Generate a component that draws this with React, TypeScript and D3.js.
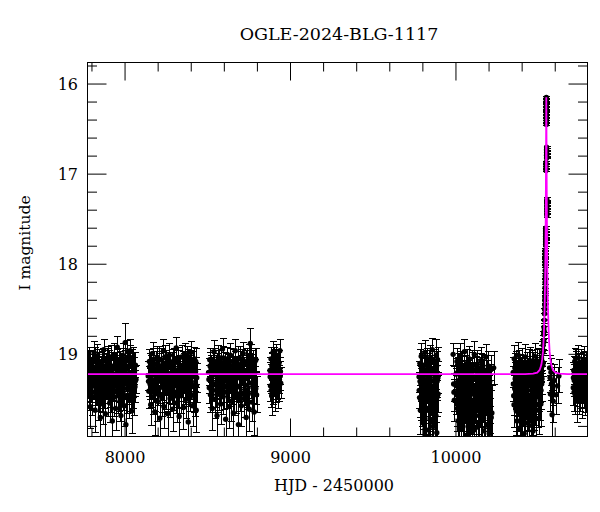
import React from 'react';
import * as d3 from 'd3';

// each observation: [HJD - 2450000, I mag, error]
type Obs = [number, number, number];

const season2017: Obs[] = [
  [7776,19.31,.18],[7779,19.12,.15],[7783,19.42,.2],[7785,19.05,.13],[7788,19.27,.16],[7791,19.58,.24],[7794,19.18,.14],[7797,19.36,.17],
  [7801,19.09,.13],[7803,19.47,.21],[7806,19.21,.15],[7810,19.33,.17],[7813,18.98,.12],[7816,19.26,.16],[7819,19.62,.25],[7822,19.14,.14],
  [7826,19.39,.18],[7829,19.02,.13],[7832,19.29,.16],[7835,19.51,.22],[7838,19.17,.15],[7842,19.44,.19],[7845,19.08,.13],[7848,19.24,.16],
  [7851,19.7,.28],[7855,19.35,.17],[7858,19.11,.14],[7861,19.28,.16],[7864,19.55,.23],[7868,19.19,.15],[7871,18.95,.12],[7874,19.41,.19],
  [7877,19.23,.15],[7881,19.66,.26],[7884,19.13,.14],[7887,19.32,.17],[7890,19.06,.13],[7894,19.48,.21],[7897,19.25,.16],[7900,19.37,.18],
  [7903,19.1,.14],[7907,19.54,.22],[7910,19.2,.15],[7913,19.03,.13],[7917,19.45,.2],[7920,19.27,.16],[7923,19.74,.3],[7926,19.15,.14],
  [7930,19.34,.17],[7933,19.0,.12],[7936,19.4,.19],[7940,19.22,.15],[7943,19.6,.24],[7946,19.12,.14],[7949,19.3,.17],[7953,18.92,.12],
  [7956,19.46,.2],[7959,19.18,.15],[7962,19.36,.18],[7966,19.07,.13],[7969,19.52,.22],[7972,19.24,.16],[7975,19.68,.27],[7979,19.14,.14],
  [7982,19.33,.17],[7985,19.01,.13],[7988,19.43,.19],[7992,19.2,.15],[7995,19.57,.23],[7998,19.1,.14],[8001,18.87,.21],[8005,19.78,.32],
  [8008,19.16,.15],[8011,19.38,.18],[8014,18.97,.12],[8018,19.25,.16],[8021,19.5,.21],[8024,19.13,.14],[8027,19.35,.17],[8031,18.96,.13],
  [8034,19.44,.2],[8037,19.21,.15],[8040,19.63,.25],[8044,19.09,.14],[8047,19.31,.17],[8050,19.05,.13],[8053,19.47,.21],[8057,19.19,.15],
  [8060,19.36,.18],[8063,19.12,.14],[8066,19.28,.16],
];
const extra2017: Obs[] = [
  [7778,19.2,.15],[7784,19.35,.17],[7790,19.1,.14],[7796,19.28,.16],[7802,19.42,.19],[7808,19.15,.15],[7814,19.31,.17],[7820,19.06,.14],
  [7827,19.24,.16],[7833,19.39,.18],[7839,19.12,.14],[7846,19.33,.17],[7852,19.19,.15],[7859,19.45,.2],[7865,19.08,.14],[7872,19.27,.16],
  [7878,19.37,.18],[7885,19.17,.15],[7891,19.3,.17],[7898,19.04,.13],[7904,19.22,.16],[7911,19.4,.19],[7918,19.13,.15],[7924,19.29,.17],
  [7931,19.48,.21],[7937,19.16,.15],[7944,19.34,.18],[7950,19.09,.14],[7957,19.26,.16],[7963,19.43,.2],[7970,19.11,.14],[7976,19.21,.16],
  [7983,19.38,.18],[7989,19.07,.14],[7996,19.32,.17],[8002,19.18,.15],[8009,19.46,.2],[8015,19.14,.15],[8022,19.28,.16],[8028,19.03,.13],
  [8035,19.36,.18],[8041,19.23,.16],[8048,19.41,.19],[8054,19.12,.14],[8061,19.3,.17],
];

const season2018: Obs[] = [
  [8140,19.24,.16],[8144,19.41,.19],[8147,19.08,.13],[8151,19.33,.17],[8155,19.56,.23],[8158,19.15,.14],[8162,19.28,.16],[8166,18.99,.12],
  [8169,19.47,.2],[8173,19.19,.15],[8177,19.36,.18],[8180,19.64,.26],[8184,19.11,.14],[8188,19.27,.16],[8191,19.04,.13],[8195,19.52,.22],
  [8199,19.22,.15],[8202,19.39,.18],[8206,19.13,.14],[8210,19.71,.29],[8213,19.3,.17],[8217,19.06,.13],[8221,19.45,.2],[8224,19.2,.15],
  [8228,19.34,.17],[8232,18.96,.12],[8235,19.58,.24],[8239,19.17,.15],[8243,19.29,.16],[8246,19.42,.19],[8250,19.09,.13],[8254,19.25,.16],
  [8257,19.66,.27],[8261,19.14,.14],[8265,19.37,.18],[8268,19.01,.13],[8272,19.49,.21],[8276,19.23,.15],[8279,19.32,.17],[8283,19.12,.14],
  [8287,19.61,.25],[8290,19.26,.16],[8294,19.07,.13],[8298,19.43,.19],[8301,19.18,.15],[8305,19.35,.17],[8309,18.93,.12],[8312,19.54,.22],
  [8316,19.21,.15],[8320,19.4,.19],[8323,19.1,.14],[8327,19.69,.28],[8331,19.28,.16],[8334,19.16,.15],[8338,19.46,.2],[8342,19.03,.13],
  [8345,19.31,.17],[8349,19.24,.16],[8353,19.59,.24],[8356,19.13,.14],[8360,19.38,.18],[8364,19.0,.12],[8367,19.5,.21],[8371,19.2,.15],
  [8375,19.33,.17],[8378,19.08,.13],[8382,19.75,.3],[8386,19.27,.16],[8389,19.15,.14],[8393,19.44,.2],[8397,18.98,.12],[8400,19.3,.17],
  [8404,19.22,.15],[8408,19.57,.23],[8411,19.11,.14],[8415,19.36,.18],[8419,19.05,.13],[8422,19.48,.21],[8426,19.19,.15],[8430,19.62,.25],
  [8433,19.26,.16],
];
const extra2018: Obs[] = [
  [8142,19.3,.17],[8149,19.14,.15],[8156,19.4,.19],[8163,19.19,.15],[8170,19.07,.14],[8176,19.32,.17],[8183,19.44,.2],[8189,19.16,.15],
  [8196,19.27,.16],[8203,19.05,.14],[8209,19.37,.18],[8216,19.22,.16],[8222,19.48,.21],[8229,19.11,.14],[8236,19.29,.17],[8242,19.03,.13],
  [8249,19.35,.18],[8255,19.2,.16],[8262,19.43,.2],[8269,19.13,.15],[8275,19.26,.16],[8282,19.38,.18],[8288,19.09,.14],[8295,19.31,.17],
  [8302,19.17,.15],[8308,19.46,.2],[8315,19.24,.16],[8321,19.06,.14],[8328,19.34,.18],[8335,19.21,.16],[8341,19.41,.19],[8348,19.12,.15],
  [8354,19.28,.16],[8361,19.15,.15],[8368,19.36,.18],[8374,19.04,.13],[8381,19.23,.16],[8387,19.39,.19],[8394,19.1,.14],[8401,19.33,.17],
  [8407,19.18,.15],[8414,19.45,.2],[8420,19.25,.16],[8427,19.08,.14],[8432,19.35,.18],
];

const season2019: Obs[] = [
  [8505,19.2,.15],[8509,19.37,.18],[8512,19.06,.13],[8516,19.45,.2],[8520,19.16,.15],[8523,19.29,.16],[8527,19.6,.25],[8531,19.1,.14],
  [8534,19.34,.17],[8538,18.97,.12],[8542,19.5,.21],[8545,19.23,.16],[8549,19.4,.19],[8553,19.13,.14],[8556,19.68,.28],[8560,19.27,.16],
  [8564,19.03,.13],[8567,19.43,.19],[8571,19.18,.15],[8575,19.32,.17],[8578,19.55,.23],[8582,19.09,.14],[8586,19.25,.16],[8589,18.94,.12],
  [8593,19.47,.2],[8597,19.21,.15],[8600,19.36,.18],[8604,19.12,.14],[8608,19.72,.3],[8611,19.3,.17],[8615,19.05,.13],[8619,19.41,.19],
  [8622,19.19,.15],[8626,19.58,.24],[8630,19.14,.14],[8633,19.28,.16],[8637,19.01,.13],[8641,19.52,.22],[8644,19.24,.16],[8648,19.38,.18],
  [8652,19.08,.13],[8655,19.65,.27],[8659,19.17,.15],[8663,19.33,.17],[8666,18.96,.12],[8670,19.46,.2],[8674,19.22,.15],[8677,19.35,.17],
  [8681,19.11,.14],[8685,19.78,.32],[8688,19.26,.16],[8692,19.04,.13],[8696,19.44,.2],[8699,19.2,.15],[8703,19.57,.23],[8707,19.15,.14],
  [8710,19.31,.17],[8714,18.99,.12],[8718,19.49,.21],[8721,19.23,.16],[8725,19.39,.18],[8729,19.1,.14],[8732,19.7,.29],[8736,19.27,.16],
  [8740,19.07,.13],[8743,19.42,.19],[8747,19.18,.15],[8751,19.61,.25],[8754,19.13,.14],[8757,18.88,.17],[8762,19.02,.13],[8765,19.53,.22],
  [8769,19.25,.16],[8773,19.37,.18],[8776,19.09,.13],[8780,19.64,.26],[8784,19.21,.15],[8787,19.3,.17],[8791,19.06,.13],[8795,19.45,.2],
];
const extra2019: Obs[] = [
  [8507,19.28,.16],[8514,19.13,.15],[8521,19.4,.19],[8528,19.2,.16],[8535,19.07,.14],[8541,19.33,.17],[8548,19.16,.15],[8555,19.45,.2],
  [8562,19.24,.16],[8568,19.1,.14],[8575,19.37,.18],[8581,19.19,.15],[8588,19.3,.17],[8594,19.04,.13],[8601,19.42,.19],[8608,19.22,.16],
  [8614,19.14,.15],[8621,19.35,.18],[8627,19.27,.16],[8634,19.08,.14],[8640,19.39,.19],[8647,19.17,.15],[8654,19.31,.17],[8660,19.47,.21],
  [8667,19.12,.15],[8673,19.26,.16],[8680,19.05,.14],[8686,19.36,.18],[8693,19.21,.16],[8700,19.43,.2],[8706,19.09,.14],[8713,19.29,.17],
  [8719,19.18,.15],[8726,19.34,.18],[8733,19.11,.15],[8739,19.4,.19],[8746,19.25,.16],[8752,19.02,.13],[8759,19.32,.17],[8766,19.15,.15],
  [8772,19.44,.2],[8779,19.2,.16],[8785,19.08,.14],[8790,19.38,.18],
];

const season2020: Obs[] = [
  [8876,19.18,.15],[8879,19.35,.17],[8882,19.05,.13],[8885,19.27,.16],[8886,19.46,.22],[8888,19.12,.14],[8891,19.22,.15],[8894,18.98,.12],
  [8897,19.38,.18],[8900,19.15,.14],[8903,19.3,.17],[8906,19.08,.13],[8909,19.44,.2],[8912,19.2,.15],[8915,19.02,.13],[8918,19.33,.17],
  [8921,19.13,.14],[8924,19.25,.16],[8927,19.41,.19],[8930,19.1,.14],[8933,19.28,.16],[8936,18.96,.12],[8939,19.19,.15],[8941,19.32,.17],
  [8877,19.25,.16],[8883,19.4,.19],[8889,19.14,.15],[8895,19.3,.17],[8901,19.06,.14],[8907,19.22,.16],[8913,19.36,.18],[8919,19.17,.15],
  [8925,19.09,.14],[8931,19.34,.18],[8938,19.24,.16],
];

const season2022: Obs[] = [
  [9777,19.25,.17],[9780,19.48,.22],[9782,19.1,.15],[9785,19.62,.27],[9788,19.33,.19],[9790,19.02,.14],[9793,19.55,.25],[9796,19.2,.16],
  [9798,19.76,.32],[9801,19.39,.2],[9804,19.12,.15],[9806,19.68,.29],[9809,19.28,.18],[9812,18.98,.13],[9814,19.5,.23],[9817,19.17,.16],
  [9820,19.84,.35],[9822,19.36,.19],[9825,19.07,.14],[9828,19.6,.26],[9830,19.24,.17],[9833,19.43,.21],[9836,19.91,.38],[9838,19.14,.15],
  [9841,19.31,.18],[9844,19.72,.3],[9846,19.04,.14],[9849,19.46,.22],[9852,19.22,.17],[9854,19.58,.25],[9857,18.95,.13],[9860,19.35,.19],
  [9862,19.8,.34],[9865,19.16,.15],[9868,19.41,.2],[9870,19.09,.14],[9873,19.65,.28],[9876,19.27,.18],[9878,19.52,.24],[9881,19.01,.18],
  [9884,19.87,.36],[9886,19.3,.18],[9889,19.06,.14],[9892,19.44,.21],
];
const extra2022: Obs[] = [
  [9778,19.4,.2],[9783,19.3,.18],[9787,19.5,.23],[9792,19.15,.16],[9797,19.44,.21],[9802,19.58,.25],[9807,19.22,.17],[9811,19.7,.3],
  [9816,19.33,.19],[9821,19.47,.22],[9826,19.19,.16],[9831,19.62,.27],[9835,19.38,.2],[9840,19.11,.15],[9845,19.53,.24],[9850,19.29,.18],
  [9855,19.75,.32],[9859,19.42,.21],[9864,19.2,.17],[9869,19.56,.25],[9874,19.35,.19],[9879,19.68,.29],[9883,19.13,.16],[9887,19.47,.22],
  [9891,19.26,.18],
];

const season2023: Obs[] = [
  [9983,19.0,.12],[9986,19.33,.19],[9988,19.42,.21],[9990,19.51,.23],
  [10000,19.22,.17],[10003,19.45,.22],[10006,19.08,.15],[10009,19.6,.26],[10012,19.3,.19],[10015,19.74,.31],[10018,19.15,.16],[10021,19.38,.2],
  [10024,19.02,.14],[10027,19.55,.25],[10030,19.26,.18],[10033,19.83,.35],[10036,19.12,.15],[10039,19.47,.22],[10042,19.34,.19],[10045,19.68,.29],
  [10048,19.19,.17],[10051,18.97,.13],[10054,19.52,.24],[10057,19.28,.18],[10060,19.9,.38],[10063,19.41,.21],[10066,19.1,.15],[10069,19.63,.27],
  [10072,19.24,.17],[10075,19.36,.2],[10078,19.77,.32],[10081,19.05,.14],[10084,19.49,.23],[10087,19.21,.17],[10090,19.58,.26],[10093,19.32,.19],
  [10096,19.86,.36],[10099,19.14,.16],[10102,19.44,.21],[10105,19.27,.18],[10108,19.7,.3],[10111,19.0,.14],[10114,19.53,.24],[10117,19.37,.2],
  [10120,19.18,.16],[10123,19.81,.34],[10126,19.4,.21],[10129,19.11,.15],[10132,19.62,.27],[10135,19.29,.18],[10138,19.47,.22],[10141,19.93,.38],
  [10144,19.23,.17],[10147,19.56,.25],[10150,19.07,.15],[10153,19.35,.19],[10156,19.73,.31],[10159,19.16,.16],[10162,19.5,.23],[10165,19.31,.19],
  [10168,19.85,.36],[10171,19.2,.17],[10174,19.43,.21],[10177,19.66,.28],[10180,19.03,.14],[10183,19.39,.2],[10186,19.78,.33],[10189,19.25,.18],
  [10192,19.57,.25],[10195,19.13,.16],[10198,19.46,.22],[10201,19.88,.37],[10204,19.3,.19],[10207,19.61,.27],[10210,19.17,.16],[10217,19.65,.3],
  [10228,19.15,.18],
];
const extra2023: Obs[] = [
  [10001,19.35,.19],[10005,19.55,.25],[10010,19.2,.17],[10014,19.42,.21],[10019,19.65,.28],[10023,19.28,.18],[10028,19.48,.22],[10032,19.13,.16],
  [10037,19.6,.26],[10041,19.38,.2],[10046,19.24,.17],[10050,19.72,.31],[10055,19.44,.21],[10059,19.17,.16],[10064,19.53,.24],[10068,19.31,.19],
  [10073,19.8,.34],[10077,19.46,.22],[10082,19.22,.17],[10086,19.62,.27],[10091,19.4,.2],[10095,19.12,.16],[10100,19.57,.25],[10104,19.35,.19],
  [10109,19.84,.35],[10113,19.27,.18],[10118,19.5,.23],[10122,19.68,.29],[10127,19.2,.17],[10131,19.44,.21],[10136,19.76,.32],[10140,19.33,.19],
  [10145,19.52,.24],[10149,19.15,.16],[10154,19.64,.28],[10158,19.41,.21],[10163,19.25,.18],[10167,19.71,.3],[10172,19.36,.2],[10176,19.55,.25],
  [10181,19.18,.17],[10185,19.6,.26],[10190,19.43,.21],[10194,19.79,.33],[10199,19.3,.19],[10203,19.53,.24],[10208,19.38,.2],[10213,19.7,.3],
];

const season2024: Obs[] = [
  [10346,19.2,.17],[10349,19.46,.22],[10352,19.05,.15],[10355,19.38,.2],[10358,19.27,.18],[10361,19.6,.26],[10364,19.13,.16],[10367,19.42,.21],
  [10370,19.74,.31],[10373,19.22,.17],[10376,19.01,.14],[10379,19.51,.24],[10382,19.33,.19],[10385,19.82,.34],[10388,19.16,.16],[10391,19.44,.21],
  [10394,19.28,.18],[10397,19.66,.28],[10400,19.09,.15],[10403,19.37,.2],[10406,19.55,.25],[10409,19.21,.17],[10412,19.88,.37],[10415,19.31,.19],
  [10418,19.03,.14],[10421,19.48,.23],[10424,19.25,.18],[10427,19.7,.3],[10430,19.14,.16],[10433,19.4,.21],[10436,19.58,.26],[10439,19.19,.17],
  [10442,19.79,.33],[10445,19.35,.19],[10448,19.07,.15],[10451,19.5,.24],[10454,19.26,.18],[10457,19.63,.27],[10460,19.12,.16],[10463,19.43,.21],
  [10466,19.85,.36],[10469,19.23,.17],[10472,19.36,.2],[10475,19.02,.14],[10478,19.54,.25],[10481,19.18,.17],[10484,19.71,.3],[10487,19.3,.19],
  [10490,19.1,.15],[10493,19.45,.22],[10496,19.24,.18],[10499,19.62,.27],[10502,19.08,.15],[10505,19.34,.19],[10508,19.5,.23],[10511,19.15,.16],
  [10514,19.4,.21],[10517,19.04,.14],[10520,19.27,.18],
  // rising branch
  [10521,19.08,.13],[10523,18.98,.12],[10525,19.12,.13],[10527,18.9,.11],[10528,18.96,.12],[10529,18.85,.1],[10530,18.78,.09],[10531,18.86,.1],
  [10532,18.7,.08],[10533,18.74,.08],[10534,18.62,.07],[10535,18.55,.06],[10535.5,18.5,.06],[10536,18.45,.05],[10536.5,18.4,.05],[10537,18.36,.04],
  [10537.5,18.31,.04],[10538,18.26,.04],[10538.5,18.2,.03],[10539,18.13,.03],[10539.5,18.07,.03],
  // after the peak
  [10566,19.15,.14],[10569,19.26,.16],[10571,19.44,.2],[10574,19.2,.15],[10577,19.33,.18],[10581,19.67,.27],[10584,19.38,.19],[10588,19.52,.24],
  [10593,19.29,.18],[10602,19.45,.22],[10614,19.35,.2],[10622,19.24,.18],
];
const extra2024: Obs[] = [
  [10347,19.33,.19],[10351,19.56,.25],[10356,19.15,.16],[10360,19.4,.21],[10365,19.63,.27],[10369,19.25,.18],[10374,19.47,.22],[10378,19.12,.16],
  [10383,19.58,.26],[10387,19.36,.2],[10392,19.2,.17],[10396,19.69,.29],[10401,19.43,.21],[10405,19.28,.18],[10410,19.53,.24],[10414,19.17,.16],
  [10419,19.76,.32],[10423,19.39,.2],[10428,19.22,.17],[10432,19.6,.26],[10437,19.45,.22],[10441,19.1,.15],[10446,19.52,.24],[10450,19.32,.19],
  [10455,19.67,.28],[10459,19.26,.18],[10464,19.48,.22],[10468,19.14,.16],[10473,19.59,.26],[10477,19.37,.2],[10482,19.21,.17],[10486,19.45,.22],
  [10491,19.3,.19],[10495,19.56,.25],[10500,19.18,.17],[10504,19.42,.21],[10509,19.27,.18],[10513,19.55,.25],[10518,19.33,.19],
];

// nights around the maximum
const peakNights: Obs[] = [
  [10540.5,18.02,.02],[10540.5,17.99,.02],[10540.5,17.96,.02],[10540.5,17.93,.02],[10540.5,17.9,.02],[10540.5,17.87,.02],[10540.5,17.84,.02],
  [10541.7,17.78,.02],[10541.7,17.75,.02],[10541.7,17.72,.02],[10541.7,17.69,.02],[10541.7,17.66,.02],[10541.7,17.63,.02],[10541.7,17.6,.02],
  [10544,16.96,.01],[10544,16.93,.01],[10544,16.9,.01],[10544,16.87,.01],
  [10546.3,16.15,.01],[10546.3,16.18,.01],[10546.3,16.21,.01],[10546.3,16.24,.01],[10546.3,16.27,.01],[10546.3,16.3,.01],
  [10546.3,16.33,.01],[10546.3,16.36,.01],[10546.3,16.39,.01],[10546.3,16.42,.01],[10546.3,16.45,.01],
  [10547.6,16.82,.01],[10547.6,16.79,.01],[10547.6,16.76,.01],[10547.6,16.73,.01],[10547.6,16.7,.01],
  [10549.2,17.46,.02],[10549.2,17.43,.02],[10549.2,17.4,.02],[10549.2,17.37,.02],[10549.2,17.34,.02],[10549.2,17.31,.02],[10549.2,17.28,.02],
];

const season2025: Obs[] = [
  [10709,19.37,.2],[10712,19.18,.16],[10715,19.29,.18],[10718,19.08,.15],[10721,19.45,.22],[10724,19.22,.17],[10727,19.13,.16],[10730,19.34,.19],
  [10733,19.52,.24],[10736,19.2,.17],[10739,19.04,.14],[10742,19.31,.18],[10745,19.16,.16],[10748,19.42,.21],[10751,19.25,.17],[10754,19.1,.15],
  [10757,19.36,.19],[10760,19.21,.17],[10763,19.48,.23],[10766,19.14,.16],[10769,19.28,.18],[10772,19.06,.15],[10775,19.39,.2],[10778,19.19,.16],
  [10781,19.3,.18],[10784,19.12,.15],[10787,19.44,.21],[10790,19.24,.17],[10793,19.33,.19],[10796,19.17,.16],
  [10710,19.26,.17],[10714,19.42,.21],[10719,19.2,.17],[10723,19.33,.19],[10728,19.1,.15],[10732,19.38,.2],[10737,19.27,.18],[10741,19.15,.16],
  [10746,19.45,.22],[10750,19.3,.18],[10755,19.19,.16],[10759,19.4,.2],[10764,19.24,.17],[10768,19.35,.19],[10773,19.13,.16],[10777,19.29,.18],
  [10782,19.46,.22],[10786,19.21,.17],[10791,19.36,.19],[10795,19.25,.17],
];

// microlensing model curve
const modelHjd = [7773, 10418, 10466, 10491, 10506, 10516, 10521, 10526, 10530, 10533, 10536, 10538, 10540, 10542, 10543,
  10544, 10545, 10546, 10547, 10548, 10549, 10550, 10552, 10554, 10556, 10559, 10562, 10566, 10571, 10576, 10586, 10601,
  10626, 10674, 10800];
const modelMag = [19.22, 19.219, 19.215, 19.203, 19.173, 19.116, 19.057, 18.97, 18.83, 18.684, 18.471, 18.272, 17.999,
  17.603, 17.326, 16.963, 16.49, 16.146, 16.49, 16.963, 17.326, 17.603, 17.999, 18.272, 18.471, 18.684, 18.83, 18.97,
  19.057, 19.116, 19.173, 19.203, 19.215, 19.219, 19.22];

const xMajor = [8000, 9000, 10000];
const yMajor = [16, 17, 18, 19];

const W = 600;
const H = 512;
const margin = { top: 62.5, right: 12.5, bottom: 75.5, left: 87.5 };
const font = "'DejaVu Serif', serif";

export default function App() {
  const x = d3.scaleLinear().domain([7773, 10795]).range([margin.left, W - margin.right]);
  const y = d3.scaleLinear().domain([15.761, 19.912]).range([margin.top, H - margin.bottom]);
  const x0 = margin.left, x1 = W - margin.right, y0 = margin.top, y1 = H - margin.bottom;

  const obs = [
    ...season2017, ...extra2017, ...season2018, ...extra2018, ...season2019, ...extra2019,
    ...season2020, ...season2022, ...extra2022, ...season2023, ...extra2023,
    ...season2024, ...extra2024, ...peakNights, ...season2025,
  ];

  const line = d3.line<number>()
    .x((_, i) => x(modelHjd[i]))
    .y((d) => y(d));

  const xMinor = d3.range(7800, 10800, 200).filter((v) => !xMajor.includes(v));
  const yMinor = d3.range(15.8, 19.9, 0.2).map((v) => +v.toFixed(1)).filter((v) => !yMajor.includes(v));

  return (
    <svg width={W} height={H} style={{ position: 'absolute', left: 0, top: 0 }} fontFamily={font}>
      <defs>
        <clipPath id="plot">
          <rect x={x0} y={y0} width={x1 - x0} height={y1 - y0} />
        </clipPath>
      </defs>

      <g clipPath="url(#plot)">
        <g stroke="#000" strokeWidth={1} shapeRendering="crispEdges">
          {obs.map(([t, m, e], i) => {
            const cx = Math.round(x(t)) + 0.5;
            return (
              <g key={i}>
                <line x1={cx} x2={cx} y1={y(m - e)} y2={y(m + e)} />
                <line x1={cx - 3.5} x2={cx + 3.5} y1={y(m - e)} y2={y(m - e)} />
                <line x1={cx - 3.5} x2={cx + 3.5} y1={y(m + e)} y2={y(m + e)} />
              </g>
            );
          })}
        </g>
        {obs.map(([t, m], i) => (
          <circle key={i} cx={x(t)} cy={y(m)} r={2.7} fill="#000" />
        ))}
        <path d={line(modelMag) ?? ''} fill="none" stroke="#ff00ff" strokeWidth={1.8} />
      </g>

      {/* frame and ticks */}
      <rect x={x0} y={y0} width={x1 - x0} height={y1 - y0} fill="none" stroke="#000" strokeWidth={1} />
      <g stroke="#000" strokeWidth={1}>
        {xMajor.map((v) => (
          <g key={v}>
            <line x1={x(v)} x2={x(v)} y1={y1} y2={y1 - 18} />
            <line x1={x(v)} x2={x(v)} y1={y0} y2={y0 + 18} />
          </g>
        ))}
        {xMinor.map((v) => (
          <g key={v}>
            <line x1={x(v)} x2={x(v)} y1={y1} y2={y1 - 9} />
            <line x1={x(v)} x2={x(v)} y1={y0} y2={y0 + 9} />
          </g>
        ))}
        {yMajor.map((v) => (
          <g key={v}>
            <line x1={x0} x2={x0 + 19} y1={y(v)} y2={y(v)} />
            <line x1={x1} x2={x1 - 19} y1={y(v)} y2={y(v)} />
          </g>
        ))}
        {yMinor.map((v) => (
          <g key={v}>
            <line x1={x0} x2={x0 + 9.5} y1={y(v)} y2={y(v)} />
            <line x1={x1} x2={x1 - 9.5} y1={y(v)} y2={y(v)} />
          </g>
        ))}
      </g>

      {xMajor.map((v) => (
        <text key={v} x={x(v)} y={462.5} textAnchor="middle" fontSize={16}>{v}</text>
      ))}
      {yMajor.map((v) => (
        <text key={v} x={78} y={y(v) + 6} textAnchor="end" fontSize={16}>{v}</text>
      ))}

      <text x={339} y={39.5} textAnchor="middle" fontSize={17.5}>OGLE-2024-BLG-1117</text>
      <text x={334} y={491} textAnchor="middle" fontSize={16}>HJD - 2450000</text>
      <text transform="translate(30,243) rotate(-90)" textAnchor="middle" fontSize={15.5}>I magnitude</text>
    </svg>
  );
}
